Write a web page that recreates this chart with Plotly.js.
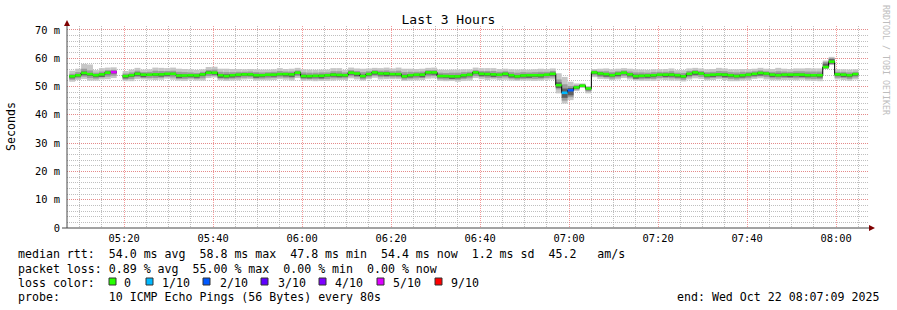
<!DOCTYPE html>
<html><head><meta charset="utf-8">
<script src="https://cdn.plot.ly/plotly-3.0.1.min.js"></script>
<style>html,body{margin:0;padding:0;background:#fff}#chart{width:897px;height:310px}</style>
</head><body><div id="chart"></div>
<script>
// ---- data ----
const startTime = Date.UTC(2025, 9, 22, 5, 7, 9);
const endTime = Date.UTC(2025, 9, 22, 8, 7, 9);
const firstSample = Date.UTC(2025, 9, 22, 5, 7, 39);
const stepSeconds = 80;

// median rtt per 80 s step (ms)
const medianRtt = [
  53.6,54.0,54.8,54.4,54.0,54.3,54.9,55.1,
  null,
  53.7,54.0,54.5,54.2,54.2,54.3,54.3,54.5,54.5,53.9,53.9,54.0,53.9,54.3,54.9,54.9,54.0,53.7,54.0,54.2,54.3,54.3,54.0,54.0,54.2,
  54.2,54.4,54.4,54.3,54.9,53.7,53.7,53.8,53.8,54.0,54.2,54.1,54.0,54.9,54.6,53.7,54.4,55.0,54.6,54.6,54.4,54.4,53.6,54.0,54.2,54.2,55.0,55.0,53.7,53.7,53.6,53.6,54.0,54.2,
  55.0,54.5,54.4,54.3,54.2,54.5,54.0,53.6,53.9,54.0,54.0,54.0,54.2,54.5,
  50.5,47.8,48.7,49.7,50.3,49.3,
  55.0,54.6,54.4,54.0,54.5,54.9,54.3,53.7,53.8,53.9,54.0,54.2,54.2,54.2,
  54.0,53.6,54.5,55.0,54.6,54.0,54.2,54.3,54.2,54.0,53.7,54.0,54.2,54.5,54.8,54.6,54.2,54.0,54.2,54.2,54.2,54.2,54.0,54.0,54.0,56.9,58.8,54.3,54.2,54.0,54.4
];
// lost pings out of 10 per step
const lostPings = [
  0,0,0,0,0,0,0,5,
  null,
  0,0,0,0,0,0,0,0,0,0,0,0,0,0,0,0,0,0,0,0,0,0,0,0,0,
  0,0,0,0,0,0,0,0,0,0,0,0,0,0,0,0,0,0,0,0,0,0,0,0,0,0,0,0,0,0,0,0,0,0,
  0,0,0,0,0,0,0,0,0,0,0,0,0,0,
  0,1,2,0,0,0,
  0,0,0,0,0,0,0,0,0,0,0,0,0,0,
  0,0,0,0,0,0,0,0,0,0,0,0,0,0,0,0,0,0,0,0,0,0,0,0,0,0,0,0,0,0,0
];
// smoke: spread of the ping values above / below the median (ms), three shades
const outerUp = [
  2.0,2.3,3.2,3.4,1.8,2.2,1.8,1.7,
  null,
  1.8,2.0,2.1,1.8,1.9,2.4,2.3,2.0,2.2,2.4,2.3,2.1,2.0,1.8,2.0,2.1,2.3,2.6,2.2,2.0,1.8,1.9,2.1,2.0,1.8,
  1.9,2.1,1.8,2.0,1.7,2.4,2.3,2.1,2.2,2.0,2.3,2.4,1.9,1.8,1.8,2.6,2.0,1.6,1.9,2.1,2.0,2.3,2.7,2.3,2.0,2.1,1.6,1.7,2.3,2.2,2.4,2.4,2.1,1.9,
  1.7,2.0,2.1,2.2,2.0,1.8,2.1,2.4,2.2,2.0,2.1,2.3,2.0,1.9,
  4.2,5.6,3.0,1.4,0.8,0.9,
  1.2,1.7,2.0,2.1,1.8,1.6,2.0,2.4,2.2,2.0,2.1,1.9,2.0,2.2,
  1.8,2.2,1.9,1.6,1.8,2.1,2.0,2.3,2.2,2.1,2.4,2.2,2.0,1.8,1.8,1.7,2.0,2.6,2.1,2.0,2.2,2.2,2.5,2.4,2.4,2.3,1.7,1.8,1.9,2.0,1.7
];
const outerDown = [
  1.9,1.7,2.1,2.3,1.9,1.8,2.3,2.1,
  null,
  1.8,2.1,1.9,1.7,1.8,2.0,1.9,1.7,2.1,1.8,1.9,1.6,1.8,2.2,1.9,1.7,1.8,1.7,1.9,2.0,1.8,1.7,1.9,1.8,2.0,
  1.9,1.8,2.0,2.2,1.9,1.7,1.6,1.9,1.8,2.0,2.1,1.8,1.7,2.0,2.1,1.6,1.8,1.9,2.1,2.0,1.8,1.8,1.6,1.9,2.0,1.9,2.2,2.1,1.7,1.8,1.6,1.9,2.0,2.1,
  2.0,1.9,2.1,1.8,1.9,2.1,1.9,1.6,1.8,1.9,2.0,1.9,1.8,2.0,
  2.9,3.8,3.5,1.3,0.8,1.7,
  1.7,1.9,1.8,1.8,2.0,1.9,1.8,1.6,1.8,1.9,2.0,1.8,1.9,2.1,
  1.9,1.8,2.0,2.1,1.9,1.8,1.9,1.7,1.9,2.1,1.8,1.9,2.0,1.8,1.9,2.1,2.0,1.8,1.9,1.9,2.0,1.8,1.9,2.0,2.1,0.7,1.2,1.8,1.9,2.0,1.9
];
const innerUp = [
  0.9,1.1,1.5,1.3,0.9,1.0,0.9,0.8,
  null,
  0.9,1.0,1.1,0.9,1.0,1.3,1.2,1.0,1.1,1.3,1.2,1.0,0.9,0.9,1.0,1.1,1.2,1.4,1.1,1.0,0.9,1.0,1.1,1.0,0.9,
  1.0,1.1,0.9,1.0,0.8,1.3,1.2,1.1,1.2,1.0,1.2,1.3,1.0,0.9,0.9,1.4,1.0,0.8,1.0,1.1,1.0,1.2,1.5,1.2,1.0,1.1,0.8,0.8,1.2,1.1,1.3,1.3,1.1,1.0,
  0.8,1.0,1.1,1.2,1.0,0.9,1.1,1.3,1.2,1.0,1.1,1.2,1.0,1.0,
  2.0,3.0,1.5,0.8,0.5,0.5,
  0.7,0.8,1.0,1.1,0.9,0.8,1.0,1.3,1.2,1.0,1.1,1.0,1.0,1.2,
  0.9,1.2,1.0,0.8,0.9,1.1,1.0,1.2,1.2,1.1,1.3,1.2,1.0,0.9,0.9,0.8,1.0,1.4,1.1,1.0,1.2,1.2,1.3,1.3,1.3,1.8,1.3,0.9,1.0,1.0,0.8
];
const innerDown = [
  1.2,1.1,1.3,1.4,1.2,1.1,1.4,1.3,
  null,
  1.2,1.3,1.2,1.1,1.2,1.3,1.2,1.1,1.3,1.2,1.2,1.1,1.2,1.4,1.2,1.1,1.2,1.1,1.2,1.3,1.2,1.1,1.2,1.2,1.3,
  1.2,1.2,1.3,1.4,1.2,1.1,1.1,1.2,1.2,1.3,1.3,1.2,1.1,1.3,1.3,1.1,1.2,1.2,1.3,1.3,1.2,1.2,1.1,1.2,1.3,1.2,1.4,1.3,1.1,1.2,1.1,1.2,1.3,1.3,
  1.3,1.2,1.3,1.2,1.2,1.3,1.2,1.1,1.2,1.2,1.3,1.2,1.2,1.3,
  1.5,2.8,2.5,0.8,0.5,1.0,
  1.1,1.2,1.2,1.2,1.3,1.2,1.2,1.1,1.2,1.2,1.3,1.2,1.2,1.3,
  1.2,1.2,1.3,1.3,1.2,1.2,1.2,1.1,1.2,1.3,1.2,1.2,1.3,1.2,1.2,1.3,1.3,1.2,1.2,1.2,1.3,1.2,1.2,1.3,1.3,0.5,0.9,1.2,1.2,1.3,1.2
];
const coreUp = [
  0.3,0.4,0.5,0.3,0.4,0.3,0.4,0.3,
  null,
  0.4,0.3,0.5,0.4,0.3,0.4,0.5,0.3,0.4,0.5,0.3,0.4,0.3,0.4,0.5,0.3,0.4,0.6,0.4,0.3,0.4,0.3,0.5,0.4,0.3,
  0.4,0.3,0.4,0.5,0.3,0.5,0.4,0.3,0.4,0.3,0.5,0.4,0.3,0.4,0.3,0.5,0.4,0.3,0.4,0.5,0.3,0.4,0.6,0.4,0.3,0.4,0.3,0.3,0.5,0.4,0.4,0.5,0.3,0.4,
  0.3,0.4,0.5,0.4,0.3,0.4,0.3,0.5,0.4,0.3,0.4,0.5,0.3,0.4,
  1.0,1.5,0.8,0.5,0.3,0.3,
  0.3,0.4,0.3,0.5,0.4,0.3,0.4,0.5,0.4,0.3,0.4,0.3,0.4,0.5,
  0.4,0.5,0.3,0.3,0.4,0.5,0.3,0.4,0.5,0.4,0.5,0.3,0.4,0.3,0.4,0.3,0.4,0.6,0.4,0.3,0.5,0.4,0.5,0.4,0.5,1.2,0.9,0.3,0.4,0.3,0.3
];
const coreDown = [
  0.7,0.5,0.8,0.6,0.7,0.9,0.6,0.5,
  null,
  0.8,0.6,0.7,0.9,0.5,0.6,0.8,0.7,0.5,0.9,0.6,0.7,0.8,0.6,0.5,0.7,0.9,0.6,0.8,0.7,0.5,0.6,0.9,0.7,0.6,
  0.7,0.5,0.8,0.9,0.6,0.7,0.8,0.6,0.9,0.5,0.7,0.8,0.6,0.7,0.9,0.5,0.6,0.8,0.7,0.9,0.6,0.7,0.5,0.8,0.6,0.9,0.7,0.8,0.5,0.6,0.9,0.7,0.8,0.6,
  0.6,0.8,0.7,0.9,0.5,0.7,0.8,0.6,0.7,0.9,0.6,0.8,0.5,0.7,
  1.0,1.8,1.8,0.6,0.4,0.6,
  0.6,0.7,0.9,0.5,0.8,0.6,0.7,0.9,0.6,0.8,0.7,0.5,0.8,0.7,
  0.8,0.6,0.7,0.9,0.5,0.7,0.8,0.6,0.9,0.7,0.5,0.8,0.6,0.7,0.9,0.6,0.8,0.5,0.7,0.9,0.6,0.8,0.7,0.5,0.8,0.4,0.7,0.6,0.8,0.7,0.6
];

const yTickValues = [0, 10, 20, 30, 40, 50, 60, 70];
const yTickLabels = ['0', '10 m', '20 m', '30 m', '40 m', '50 m', '60 m', '70 m'];

const lossLevels = [0, 1, 2, 3, 4, 5, 9];
const lossLabels = ['0', '1/10', '2/10', '3/10', '4/10', '5/10', '9/10'];
const lossColors = ['#26ff00', '#00b8ff', '#0059ff', '#5e00ff', '#7e00ff', '#dd00ff', '#ff0000'];

const statsRtt = 'median rtt:  54.0 ms avg  58.8 ms max  47.8 ms min  54.4 ms now  1.2 ms sd  45.2   am/s';
const statsLoss = 'packet loss: 0.89 % avg  55.00 % max  0.00 % min  0.00 % now';
const lossTitle = 'loss color:';
const probeText = 'probe:       10 ICMP Echo Pings (56 Bytes) every 80s';
const endText = 'end: Wed Oct 22 08:07:09 2025';
const chartTitle = 'Last 3 Hours';
const yTitle = 'Seconds';
const watermark = 'RRDTOOL / TOBI OETIKER';

// ---- drawing ----
const MONO = 'DejaVu Sans Mono';
const stepMs = stepSeconds * 1000;
const L = 67, T = 26, W = 801, H = 202;
const xp = px => (px - L) / W;
const yp = py => (T + H - py) / H;
const nb = s => s.replace(/ /g, '\u00a0');

const tStart = i => firstSample + i * stepMs;
const idx = medianRtt.map((_, i) => i).filter(i => medianRtt[i] !== null);

function smokeTrace(up, down, color) {
  return {
    type: 'bar',
    x: idx.map(i => tStart(i) + stepMs / 2),
    base: idx.map(i => medianRtt[i] - down[i]),
    y: idx.map(i => up[i] + down[i]),
    width: stepMs,
    marker: {color: color, line: {width: 0}},
    hoverinfo: 'skip'
  };
}

// median as black step line (shows the vertical transitions)
const blackX = [], blackY = [];
medianRtt.forEach((v, i) => {
  if (v === null) { blackX.push(tStart(i)); blackY.push(null); return; }
  blackX.push(tStart(i), tStart(i + 1));
  blackY.push(v, v);
});

const traces = [
  smokeTrace(outerUp, outerDown, '#c6c6c6'),
  smokeTrace(innerUp, innerDown, '#9c9c9c'),
  smokeTrace(coreUp, coreDown, '#606060'),
  {type: 'scatter', mode: 'lines', x: blackX, y: blackY, line: {color: '#000000', width: 1}, connectgaps: false, hoverinfo: 'skip'}
];

lossLevels.forEach((lvl, k) => {
  const sx = [], sy = [];
  medianRtt.forEach((v, i) => {
    if (v === null || lostPings[i] !== lvl) return;
    sx.push(tStart(i), tStart(i + 1), null);
    sy.push(v, v, null);
  });
  if (sx.length) traces.push({type: 'scatter', mode: 'lines', x: sx, y: sy,
    line: {color: lossColors[k], width: 2.6}, connectgaps: false, hoverinfo: 'skip'});
});

const majorGrid = 'rgba(240,120,120,0.75)';
const minorGrid = 'rgba(170,170,170,0.75)';
const axisColor = '#474747';
const arrowColor = '#7f0000';

const shapes = [
  {type: 'line', xref: 'paper', yref: 'paper', x0: xp(67), x1: xp(67), y0: yp(228), y1: yp(24), line: {color: axisColor, width: 1}},
  {type: 'line', xref: 'paper', yref: 'paper', x0: xp(62), x1: xp(870), y0: yp(228), y1: yp(228), line: {color: axisColor, width: 1}},
  {type: 'path', xref: 'paper', yref: 'paper', fillcolor: arrowColor, line: {width: 0},
    path: `M${xp(64)},${yp(26)} L${xp(70)},${yp(26)} L${xp(67)},${yp(20)} Z`},
  {type: 'path', xref: 'paper', yref: 'paper', fillcolor: arrowColor, line: {width: 0},
    path: `M${xp(869)},${yp(225)} L${xp(869)},${yp(231)} L${xp(875)},${yp(228)} Z`}
];

const boxX = [109, 146, 203, 261, 319, 377, 435];
const labelX = [122, 160, 218, 276, 333, 391, 449];
boxX.forEach((bx, k) => {
  shapes.push({type: 'rect', xref: 'paper', yref: 'paper', x0: xp(bx), x1: xp(bx + 7), y0: yp(285), y1: yp(278),
    fillcolor: lossColors[k], line: {color: '#333333', width: 1}});
});

const legFont = {family: MONO, size: 11.6, color: '#000000'};
function ann(text, px, py, opts) {
  return Object.assign({text: nb(text), xref: 'paper', yref: 'paper', x: xp(px), y: yp(py),
    xanchor: 'left', yanchor: 'middle', showarrow: false, font: legFont}, opts || {});
}
const annotations = [
  ann(statsRtt, 16, 254.5),
  ann(statsLoss, 16, 268.5),
  ann(lossTitle, 16, 282.5),
  ann(probeText, 16, 296.5),
  ann(endText, 881, 296.5, {xanchor: 'right'}),
  ann(yTitle, 11, 127, {xanchor: 'center', textangle: -90}),
  ann(watermark, 886, 60, {xanchor: 'center', textangle: 90, font: {family: MONO, size: 8.3, color: '#bdbdbd'}})
];
lossLabels.forEach((lab, k) => annotations.push(ann(lab, labelX[k], 282.5)));

const layout = {
  width: 897, height: 310,
  margin: {l: L, r: 897 - L - W, t: T, b: 310 - T - H},
  paper_bgcolor: '#ffffff', plot_bgcolor: '#ffffff',
  showlegend: false, barmode: 'overlay', hovermode: false,
  title: {text: chartTitle, font: {family: MONO, size: 13, color: '#000000'},
    xref: 'container', x: 0.5, xanchor: 'center', yref: 'container', y: 1 - 19 / 310, yanchor: 'middle'},
  xaxis: {
    type: 'date', range: [startTime, endTime], autorange: false, fixedrange: true, automargin: false,
    tickmode: 'linear', tick0: Date.UTC(2025, 9, 22, 5, 0, 0), dtick: 20 * 60000, tickformat: '%H:%M',
    showgrid: true, gridcolor: majorGrid, griddash: '1px,1px', gridwidth: 1,
    minor: {tickmode: 'linear', tick0: Date.UTC(2025, 9, 22, 5, 0, 0), dtick: 5 * 60000, showgrid: true, gridcolor: minorGrid, griddash: '1px,1px', gridwidth: 1},
    ticks: '', showline: false, zeroline: false, ticklabelstandoff: 3,
    tickfont: {family: MONO, size: 10.4, color: '#000000'}
  },
  yaxis: {
    range: [0, 71.4], autorange: false, fixedrange: true, automargin: false,
    tickmode: 'array', tickvals: yTickValues, ticktext: yTickLabels,
    showgrid: true, gridcolor: majorGrid, griddash: '1px,1px', gridwidth: 1,
    minor: {tickmode: 'linear', tick0: 0, dtick: 2, showgrid: true, gridcolor: minorGrid, griddash: '1px,1px', gridwidth: 1},
    ticks: '', showline: false, zeroline: false, ticklabelstandoff: 6,
    tickfont: {family: MONO, size: 10.4, color: '#000000'}
  },
  shapes: shapes,
  annotations: annotations
};

Plotly.newPlot('chart', traces, layout, {displayModeBar: false, staticPlot: true});
</script>
</body></html>
